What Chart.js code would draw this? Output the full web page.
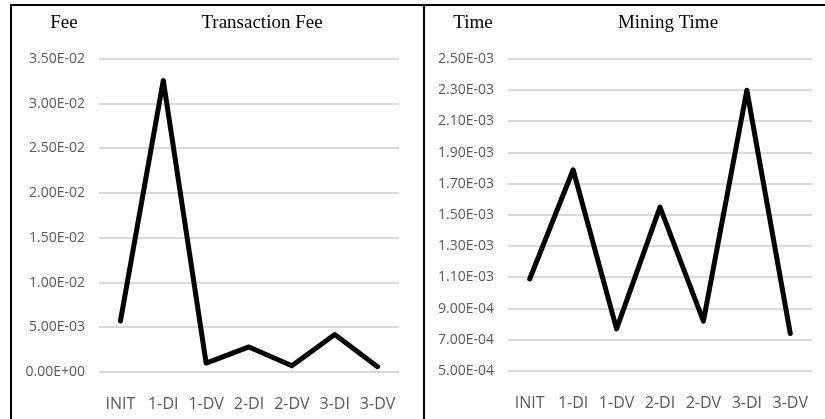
<!DOCTYPE html>
<html>
<head>
<meta charset="utf-8">
<script src="https://cdn.jsdelivr.net/npm/chart.js@4/dist/chart.umd.min.js"></script>
<style>
  html, body { margin: 0; padding: 0; background: #fff; }
  body { width: 825px; height: 419px; position: relative; overflow: hidden; }
  #frame {
    position: absolute; left: 10px; top: 4px; width: 815px; height: 415px;
    border-left: 2px solid #000; border-top: 2px solid #000; box-sizing: border-box;
  }
  #divider { position: absolute; left: 423px; top: 4px; width: 2px; height: 415px; background: #000; }
  canvas { position: absolute; top: 6px; }
  #feeChart { left: 12px; }
  #timeChart { left: 425px; }
</style>
</head>
<body>
<div id="frame"></div>
<div id="divider"></div>
<canvas id="feeChart" width="411" height="413"></canvas>
<canvas id="timeChart" width="400" height="413"></canvas>
<script>
// data
const categories = ["INIT", "1-DI", "1-DV", "2-DI", "2-DV", "3-DI", "3-DV"];
const feeValues = [0.0057, 0.0326, 0.0010, 0.0028, 0.0007, 0.0042, 0.0006];
const timeValues = [0.00109, 0.00179, 0.00077, 0.00155, 0.00082, 0.00230, 0.00074];

// y axis ranges (min, max, step)
const feeAxis = [0, 0.035, 0.005];
const timeAxis = [0.0005, 0.0025, 0.0002];

// 3.50E-02 style labels
function sciLabel(v) {
    const parts = Number(v).toExponential(2).split("e");
    const sign = parts[1][0];
    const exp = parts[1].slice(1).padStart(2, "0");
    return parts[0] + "E" + sign + exp;
}

const panelText = {
    id: "panelText",
    afterDraw(chart, args, opts) {
        const ctx = chart.ctx;
        const area = chart.chartArea;
        ctx.save();
        ctx.font = '19px "Liberation Serif"';
        ctx.fillStyle = "#000";
        ctx.textAlign = "center";
        ctx.textBaseline = "middle";
        ctx.fillText(opts.unit, area.left - 35, 17);
        ctx.fillText(opts.title, (area.left + area.right) / 2 + opts.shift, 17);
        ctx.restore();
    }
};

function makeChart(id, values, axis, unit, title, shift, axisWidth, padRight, xHeight) {
    const ctx = document.getElementById(id).getContext("2d");
    return new Chart(ctx, {
        type: "line",
        data: {
            labels: categories,
            datasets: [{
                data: values,
                borderColor: "#000",
                borderWidth: 5,
                borderJoinStyle: "round",
                borderCapStyle: "round",
                pointRadius: 0,
                tension: 0,
                fill: false
            }]
        },
        options: {
            responsive: false,
            animation: false,
            layout: { padding: { top: 53, right: padRight, bottom: 0, left: 0 } },
            plugins: {
                legend: { display: false },
                tooltip: { enabled: false },
                title: { display: false },
                panelText: { unit: unit, title: title, shift: shift }
            },
            scales: {
                x: {
                    offset: true,
                    grid: { display: false },
                    border: { display: false },
                    ticks: {
                        color: "#595959",
                        font: { family: "Open Sans", size: 16 },
                        padding: 15,
                        maxRotation: 0,
                        autoSkip: false
                    },
                    afterFit(scale) { scale.height = xHeight; }
                },
                y: {
                    min: axis[0],
                    max: axis[1],
                    grid: { color: "#d9d9d9", lineWidth: 2, drawTicks: false },
                    border: { display: false },
                    ticks: {
                        stepSize: axis[2],
                        maxTicksLimit: 20,
                        autoSkip: false,
                        padding: 14,
                        color: "#595959",
                        font: { family: "Open Sans", size: 14 },
                        callback: (v) => sciLabel(v)
                    },
                    afterFit(scale) { scale.width = axisWidth; }
                }
            }
        },
        plugins: [panelText]
    });
}

makeChart("feeChart", feeValues, feeAxis, "Fee", "Transaction Fee", 13, 87, 24, 47);
makeChart("timeChart", timeValues, timeAxis, "Time", "Mining Time", 8, 83, 13, 48);
</script>
</body>
</html>
